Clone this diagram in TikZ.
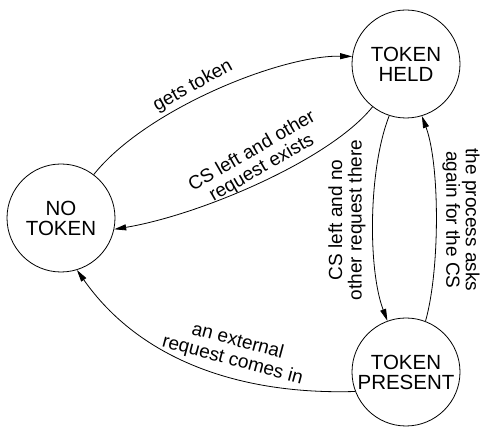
\documentclass[tikz,border=0pt]{standalone}
\usepackage{fontspec}
\setmainfont{Liberation Sans}
\usetikzlibrary{arrows.meta}
\begin{document}
\begin{tikzpicture}[x=1pt,y=-1pt,
  state/.style={circle,draw,line width=0.8pt,minimum size=108pt,inner sep=0pt,align=center,font=\fontsize{20.5}{20}\selectfont},
  edgelbl/.style={align=center,font=\fontsize{19}{19.5}\selectfont,inner sep=0pt},
  conn/.style={line width=0.8pt,-{Triangle[length=12pt,width=6pt]}}]
\useasboundingbox (0,0) rectangle (480,427);
\node[state] (nt) at (61,218) {NO\\TOKEN};
\node[state] (th) at (406,64) {TOKEN\\HELD};
\node[state] (tp) at (406,372) {TOKEN\\PRESENT};
\draw[conn] (nt.53) .. controls (145,110) and (280,55) .. (th.172);
\draw[conn] (th.232) .. controls (330,160) and (200,215) .. (nt.348);
\draw[conn] (th.252) .. controls (368,170) and (368,270) .. (tp.110);
\draw[conn] (tp.69) .. controls (440,270) and (440,165) .. (th.287);
\draw[conn] (tp.201) .. controls (240,395) and (140,360) .. (nt.287);
\node[edgelbl,rotate=29] (l1) at (193,86) {gets token};
\node[edgelbl,rotate=30] (l2) at (257,160) {CS left and other\\request exists};
\node[edgelbl,rotate=90] (l3) at (347,220) {CS left and no\\other request there};
\node[edgelbl,rotate=-90] (l4) at (461,220) {the process asks\\again for the CS};
\node[edgelbl,rotate=-15] (l5) at (235,351) {an external\\request comes in};
\end{tikzpicture}
\end{document}
